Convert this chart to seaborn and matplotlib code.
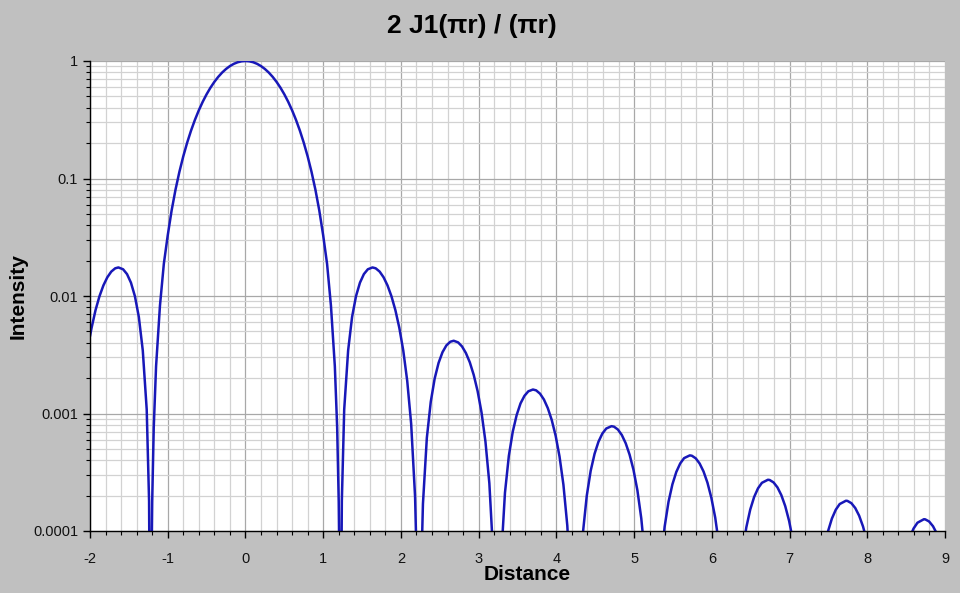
import matplotlib
matplotlib.use("Agg")
import matplotlib.pyplot as plt
import matplotlib.ticker as mticker
import numpy as np
import pandas as pd
import seaborn as sns

# values (log intensity vs distance), one list per lobe
left_ring_x = [-2.0, -1.9798, -1.9291, -1.8784, -1.8277, -1.7771, -1.7264, -1.6757, -1.6347, -1.5744, -1.5237,
               -1.4731, -1.4224, -1.3717, -1.3210, -1.2704, -1.2400, -1.2197]
left_ring_y = [0.00454, 0.005348, 0.00757, 0.009942, 0.0123, 0.014427, 0.01613, 0.017207, 0.0175, 0.016884, 0.01536,
               0.012982, 0.00997, 0.006628, 0.00344, 0.00108, 0.00018, 1e-6]

central_x = [-1.21, -1.2, -1.18, -1.15, -1.1, -1.05, -1.0, -0.95, -0.9, -0.85, -0.8, -0.75, -0.7, -0.65, -0.6,
             -0.55, -0.5, -0.45, -0.4, -0.35, -0.3, -0.25, -0.2, -0.15, -0.1, -0.05, 0.0,
             0.05, 0.1, 0.15, 0.2, 0.25, 0.3, 0.35, 0.4, 0.45, 0.5, 0.55, 0.6, 0.65, 0.7, 0.75, 0.8, 0.85,
             0.9, 0.95, 1.0, 1.05, 1.1, 1.15, 1.18, 1.2, 1.21]
central_y = [4.19e-5, 1.77e-4, 7.57e-4, 0.00252, 0.00826, 0.0188, 0.0328, 0.0534, 0.0803, 0.1139, 0.1544, 0.2018,
             0.2558, 0.3157, 0.3806, 0.4495, 0.5209, 0.5931, 0.6645, 0.7332, 0.7975, 0.8553, 0.9053, 0.9458,
             0.9756, 0.9938, 1.0,
             0.9938, 0.9756, 0.9458, 0.9053, 0.8553, 0.7975, 0.7332, 0.6645, 0.5931, 0.5209, 0.4495, 0.3806,
             0.3157, 0.2558, 0.2018, 0.1544, 0.1139, 0.0803, 0.0534, 0.0328, 0.0188, 0.00826, 0.00252, 7.57e-4,
             1.77e-4, 4.19e-5]

ring1_x = [1.2197, 1.24, 1.2704, 1.321, 1.3717, 1.4224, 1.4731, 1.5237, 1.5744, 1.6347, 1.6757, 1.7264, 1.7771,
           1.8277, 1.8784, 1.9291, 1.9798, 2.0304, 2.0811, 2.1318, 2.1824, 2.2128, 2.2331]
ring1_y = [1e-6, 1.8e-4, 0.00108, 0.00344, 0.006628, 0.00997, 0.012982, 0.01536, 0.016884, 0.0175, 0.017207,
           0.01613, 0.014427, 0.0123, 0.009942, 0.00757, 0.005348, 0.00343, 0.001898, 8.18e-4, 1.95e-4, 3.0e-5, 1e-6]

ring2_x = [2.2532, 2.2834, 2.3336, 2.3839, 2.4341, 2.4844, 2.5347, 2.5849, 2.6352, 2.6793, 2.7357, 2.786, 2.8362,
           2.8865, 2.9367, 2.987, 3.0373, 3.0875, 3.1378, 3.1881, 3.2182, 3.2383]
ring2_y = [2.84e-5, 1.70e-4, 6.20e-4, 1.256e-3, 1.98e-3, 2.692e-3, 3.32e-3, 3.795e-3, 4.08e-3, 4.16e-3, 4.03e-3,
           3.724e-3, 3.27e-3, 2.725e-3, 2.13e-3, 1.549e-3, 1.02e-3, 5.78e-4, 2.55e-4, 6.2e-5, 9.8e-6, 1e-6]

ring3_x = [3.2584, 3.2884, 3.3386, 3.3887, 3.4389, 3.489, 3.5391, 3.5893, 3.6394, 3.6987, 3.7397, 3.7898, 3.84,
           3.8901, 3.9403, 3.9904, 4.0405, 4.0907, 4.1408, 4.191, 4.2411]
ring3_y = [9.4e-6, 5.7e-5, 2.11e-4, 4.36e-4, 7.0e-4, 9.69e-4, 1.22e-3, 1.413e-3, 1.545e-3, 1.60e-3, 1.574e-3,
           1.475e-3, 1.315e-3, 1.110e-3, 8.81e-4, 6.48e-4, 4.31e-4, 2.48e-4, 1.11e-4, 2.7e-5, 1e-6]

ring4_x = [4.2912, 4.3413, 4.3914, 4.4414, 4.4915, 4.5416, 4.5917, 4.6418, 4.7097, 4.742, 4.792, 4.8421, 4.8922,
           4.9423, 4.9924, 5.0425, 5.0925, 5.1426, 5.1927, 5.2428]
ring4_y = [2.55e-5, 9.6e-5, 2.00e-4, 3.25e-4, 4.54e-4, 5.75e-4, 6.75e-4, 7.45e-4, 7.8e-4, 7.72e-4, 7.30e-4,
           6.56e-4, 5.58e-4, 4.46e-4, 3.31e-4, 2.22e-4, 1.28e-4, 5.8e-5, 1.4e-5, 1e-6]

ring5_x = [5.2929, 5.3429, 5.393, 5.443, 5.4931, 5.5431, 5.5932, 5.6432, 5.7168, 5.7434, 5.7934, 5.8435, 5.8935,
           5.9436, 5.9936, 6.0437, 6.0937, 6.1438, 6.1939, 6.2439]
ring5_y = [1.37e-5, 5.18e-5, 1.088e-4, 1.774e-4, 2.497e-4, 3.18e-4, 3.756e-4, 4.17e-4, 4.40e-4, 4.37e-4, 4.153e-4,
           3.75e-4, 3.21e-4, 2.58e-4, 1.922e-4, 1.30e-4, 7.54e-5, 3.4e-5, 8.5e-6, 1e-6]

ring6_x = [6.344, 6.394, 6.4441, 6.4941, 6.5442, 6.5942, 6.6443, 6.7217, 6.7444, 6.7944, 6.8445, 6.8945, 6.9446,
           6.9946, 7.0447, 7.0947, 7.1448, 7.2448]
ring6_y = [3.12e-5, 6.57e-5, 1.076e-4, 1.521e-4, 1.946e-4, 2.307e-4, 2.57e-4, 2.73e-4, 2.716e-4, 2.591e-4, 2.35e-4,
           2.018e-4, 1.628e-4, 1.217e-4, 8.23e-5, 4.81e-5, 2.18e-5, 1e-6]

ring7_x = [7.3449, 7.3949, 7.4449, 7.495, 7.545, 7.595, 7.6451, 7.7258, 7.7451, 7.7951, 7.8452, 7.8952, 7.9452,
           7.9953, 8.0453, 8.0953, 8.1453, 8.2454]
ring7_y = [2.02e-5, 4.27e-5, 7.01e-5, 9.95e-5, 1.277e-4, 1.518e-4, 1.696e-4, 1.81e-4, 1.803e-4, 1.726e-4, 1.569e-4,
           1.351e-4, 1.093e-4, 8.20e-5, 5.56e-5, 3.25e-5, 1.48e-5, 1e-6]

ring8_x = [8.3455, 8.3955, 8.4455, 8.4955, 8.5456, 8.5956, 8.6456, 8.729, 8.7457, 8.7957, 8.8457, 8.8958, 8.9458, 9.0]
ring8_y = [1.38e-5, 2.93e-5, 4.82e-5, 6.85e-5, 8.81e-5, 1.050e-4, 1.176e-4, 1.26e-4, 1.256e-4, 1.205e-4, 1.098e-4,
           9.48e-5, 7.68e-5, 5.61e-5]

y_tick_values = [1e-4, 1e-3, 1e-2, 1e-1, 1]
y_tick_labels = ['0.0001', '0.001', '0.01', '0.1', '1']
x_tick_values = list(range(-2, 10))

df = pd.DataFrame({
    'distance': left_ring_x + central_x + ring1_x + ring2_x + ring3_x + ring4_x
                + ring5_x + ring6_x + ring7_x + ring8_x,
    'intensity': left_ring_y + central_y + ring1_y + ring2_y + ring3_y + ring4_y
                 + ring5_y + ring6_y + ring7_y + ring8_y,
})

sns.set_style('white')
plt.rcParams['font.family'] = ['Liberation Sans', 'DejaVu Sans']
plt.rcParams['text.color'] = 'black'

fig = plt.figure(figsize=(9.6, 5.93), dpi=100, facecolor='#c0c0c0')
ax = fig.add_axes([90 / 960, 1 - 531 / 593, 855 / 960, 470 / 593])
ax.set_facecolor('white')

sns.lineplot(data=df, x='distance', y='intensity', color='#1818b8', lw=1.8,
             estimator=None, sort=False, ax=ax)

ax.set_yscale('log')
ax.set_xlim(-2, 9)
ax.set_ylim(1e-4, 1)
ax.set_xticks(x_tick_values)
ax.set_xticklabels([str(v) for v in x_tick_values])
ax.xaxis.set_minor_locator(mticker.MultipleLocator(0.2))
ax.set_yticks(y_tick_values)
ax.set_yticklabels(y_tick_labels)
ax.yaxis.set_minor_locator(mticker.LogLocator(base=10, subs=range(2, 10), numticks=20))
ax.yaxis.set_minor_formatter(mticker.NullFormatter())

ax.set_axisbelow(True)
ax.grid(which='major', color='#a8a8a8', lw=0.9)
ax.grid(which='minor', color='#d2d2d2', lw=0.9)

for side in ['top', 'right']:
    ax.spines[side].set_visible(False)
for side in ['left', 'bottom']:
    ax.spines[side].set_color('black')
    ax.spines[side].set_linewidth(1.0)

ax.tick_params(which='major', direction='out', length=5, width=1, color='black',
               labelsize=10.5, labelcolor='#111111', left=True, bottom=True)
ax.tick_params(axis='x', which='major', pad=10)
ax.tick_params(which='minor', direction='out', length=3, width=0.8, color='black',
               left=True, bottom=True)
ax.set_xlabel('')
ax.set_ylabel('')

fig.text(0.492, 1 - 26 / 593, '2 J1(πr) / (πr)', ha='center', va='center',
         fontsize=19, fontweight='bold', color='black')
fig.text(527 / 960, 1 - 575 / 593, 'Distance', ha='center', va='center',
         fontsize=15, fontweight='bold', color='black')
fig.text(18 / 960, 1 - 296 / 593, 'Intensity', ha='center', va='center',
         rotation=90, fontsize=15, fontweight='bold', color='black')

fig.savefig('out.png', dpi=100, facecolor=fig.get_facecolor())
